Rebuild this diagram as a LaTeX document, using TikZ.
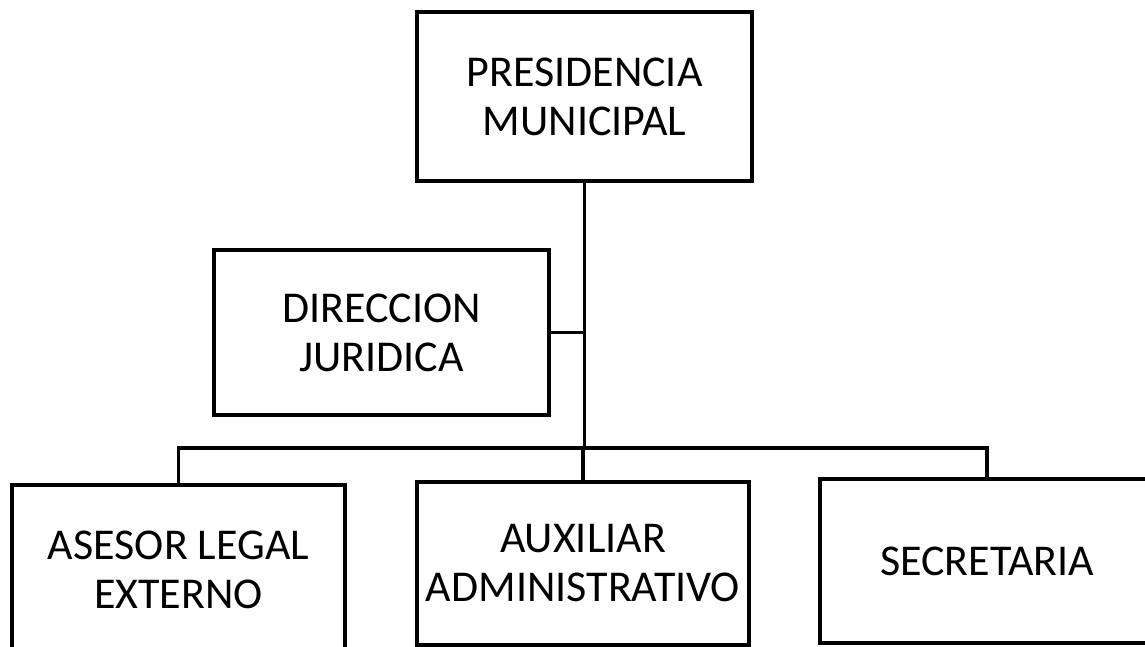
\documentclass[tikz,border=0pt]{standalone}
\usepackage{fontspec}
\setmainfont{Carlito}
\begin{document}
\begin{tikzpicture}[x=1pt,y=-1pt,
  box/.style={draw=black, line width=4.5pt, inner sep=0pt, align=center,
    font=\fontsize{44}{49}\selectfont},
  link/.style={draw=black, line width=3.5pt, line join=miter}]
\useasboundingbox (0,0) rectangle (1145,647);
\clip (0,0) rectangle (1145,647);
\node[box, minimum width=335pt, minimum height=169pt] (pres) at (584.5,96.5) {PRESIDENCIA\\MUNICIPAL};
\node[box, minimum width=335pt, minimum height=165pt] (dir) at (381.5,332.5) {DIRECCION\\JURIDICA};
\node[box, minimum width=333pt, minimum height=170pt] (ases) at (178.5,570) {ASESOR LEGAL\\EXTERNO};
\node[box, minimum width=332pt, minimum height=163pt] (aux) at (583,563.5) {AUXILIAR\\ADMINISTRATIVO};
\node[box, minimum width=334pt, minimum height=164pt] (secr) at (987,561) {SECRETARIA};
\coordinate (busy) at (0,448);
\draw[link] (pres.south) -- (pres.south |- busy);
\draw[link] (dir.east) -- (dir.east -| pres.south);
\draw[link] (ases.north) -- (ases.north |- busy) -- (secr.north |- busy) -- (secr.north);
\draw[link] (aux.north |- busy) -- (aux.north);
\end{tikzpicture}
\end{document}
